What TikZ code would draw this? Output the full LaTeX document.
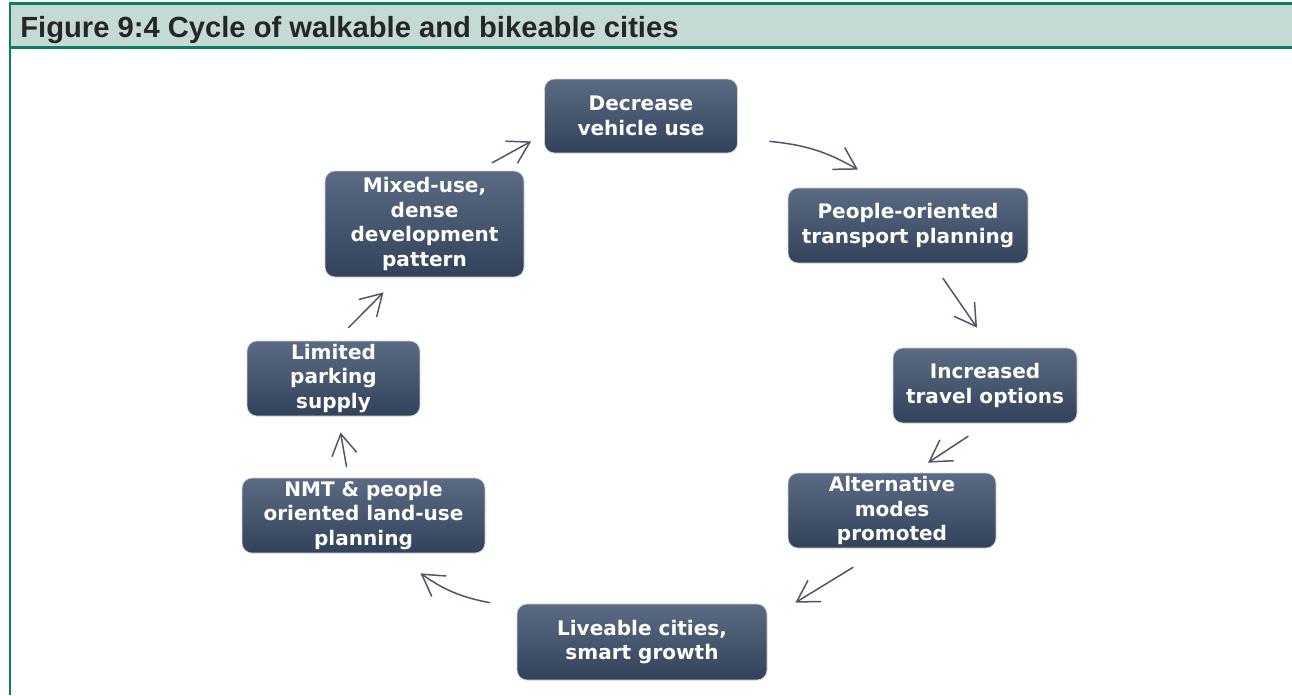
\documentclass[tikz,border=0pt]{standalone}
\usepackage{fontspec}
\setmainfont{DejaVu Sans}
\newfontfamily\titlefont{Liberation Sans}
\usetikzlibrary{arrows.meta, positioning}
\definecolor{framegreen}{HTML}{0E7B62}
\definecolor{bandfill}{HTML}{C6DAD5}
\definecolor{boxtop}{HTML}{5C6B84}
\definecolor{boxbottom}{HTML}{33425B}
\definecolor{arrowgray}{HTML}{4D5669}

\begin{document}
\begin{tikzpicture}[>={Straight Barb[length=4.2mm, width=5mm]},
		box/.style={rounded corners=2mm, draw=gray!35, line width=0.4pt,
			top color=boxtop, bottom color=boxbottom, text=white,
			font=\fontsize{11.4}{14}\selectfont\bfseries, align=center, inner sep=0pt},
		link/.style={->, draw=arrowgray, line width=0.85pt, line cap=round}]
		
		\useasboundingbox (0,0) rectangle (25.84,-13.9);
		
		% ---------------------------------------------------------
		% FRAME: title band and green border
		% ---------------------------------------------------------
		\fill[bandfill] (0.2,-0.07) rectangle (25.84,-0.94);
		\draw[framegreen, line width=1.7pt] (0.2,-13.9) -- (0.2,-0.07) -- (25.84,-0.07);
		\draw[framegreen, line width=1.7pt] (0.2,-0.94) -- (25.84,-0.94);
		\node[anchor=base west, inner sep=0pt, text=black!85,
			font=\titlefont\fontsize{16.6}{18}\selectfont\bfseries] (title) at (0.4,-0.74)
			{Figure 9:4 Cycle of walkable and bikeable cities};
		
		% ---------------------------------------------------------
		% CYCLE: the eight boxes
		% ---------------------------------------------------------
		\node[box, minimum width=3.86cm, minimum height=1.48cm] (decrease) at (12.82,-2.32) {Decrease\\vehicle use};
		\node[box, minimum width=4.8cm, minimum height=1.5cm] (transport) at (18.16,-4.51) {People-oriented\\transport planning};
		\node[box, minimum width=3.68cm, minimum height=1.5cm] (options) at (19.70,-7.71) {Increased\\travel options};
		\node[box, minimum width=4.16cm, minimum height=1.5cm] (modes) at (17.84,-10.21) {Alternative\\modes\\promoted};
		\node[box, minimum width=5.0cm, minimum height=1.52cm] (liveable) at (12.84,-12.84) {Liveable cities,\\smart growth};
		\node[box, minimum width=4.86cm, minimum height=1.5cm] (landuse) at (7.27,-10.31) {NMT \& people\\oriented land-use\\planning};
		\node[box, minimum width=3.46cm, minimum height=1.5cm] (parking) at (6.67,-7.57) {Limited\\parking\\supply};
		\node[box, minimum width=3.98cm, minimum height=2.12cm] (mixed) at (8.49,-4.48) {Mixed-use,\\dense\\development\\pattern};
		
		% ---------------------------------------------------------
		% ARROWS: clockwise round the cycle
		% ---------------------------------------------------------
		\draw[link] ([xshift=0.64cm, yshift=0.24cm]decrease.south east) to[bend left=12] ([xshift=-1.0cm, yshift=0.36cm]transport.north);
		\draw[link] ([xshift=0.7cm, yshift=-0.3cm]transport.south) -- ([xshift=-0.16cm, yshift=0.4cm]options.north);
		\draw[link] ([xshift=-0.34cm, yshift=-0.26cm]options.south) -- ([xshift=0.72cm, yshift=0.2cm]modes.north);
		\draw[link] ([xshift=-0.78cm, yshift=-0.38cm]modes.south) -- ([xshift=0.56cm, yshift=0.02cm]liveable.north east);
		\draw[link] ([xshift=-0.54cm, yshift=0.02cm]liveable.north west) to[bend left=12] ([xshift=1.14cm, yshift=-0.4cm]landuse.south);
		\draw[link] ([xshift=-0.34cm, yshift=0.22cm]landuse.north) -- ([xshift=0.14cm, yshift=-0.32cm]parking.south);
		\draw[link] ([xshift=0.3cm, yshift=0.26cm]parking.north) -- ([xshift=-0.82cm, yshift=-0.3cm]mixed.south);
		\draw[link] ([xshift=-0.64cm, yshift=0.16cm]mixed.north east) -- ([xshift=-0.26cm, yshift=0.24cm]decrease.south west);
		
	\end{tikzpicture}
\end{document}
